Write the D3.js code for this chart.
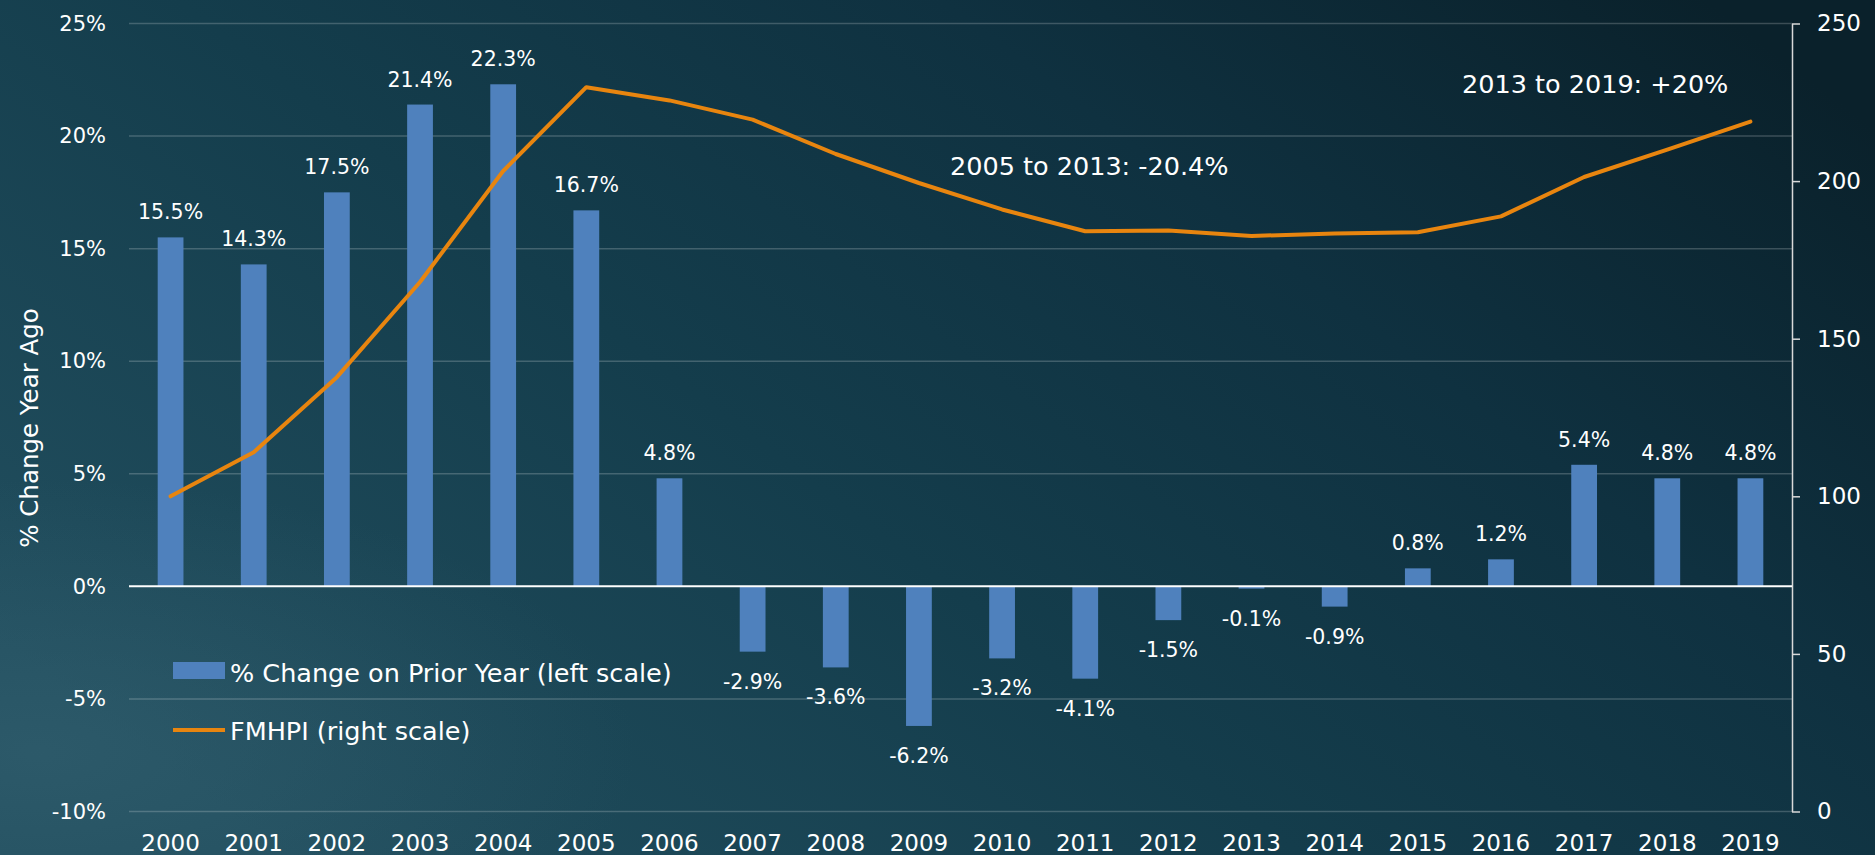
<!DOCTYPE html>
<html>
<head>
<meta charset="utf-8">
<script src="https://cdn.jsdelivr.net/npm/d3@7"></script>
<style>
  html, body { margin: 0; padding: 0; background: #0f3140; }
  svg { display: block; font-family: "DejaVu Sans", sans-serif; }
</style>
</head>
<body>
<svg id="chart"></svg>
<script>
// data
const years = ["2000", "2001", "2002", "2003", "2004", "2005", "2006", "2007", "2008", "2009",
               "2010", "2011", "2012", "2013", "2014", "2015", "2016", "2017", "2018", "2019"];
const pctChange = [15.5, 14.3, 17.5, 21.4, 22.3, 16.7, 4.8, -2.9, -3.6, -6.2,
                   -3.2, -4.1, -1.5, -0.1, -0.9, 0.8, 1.2, 5.4, 4.8, 4.8];
const fmhpi = [100, 114, 137.8, 168, 203.2, 229.8, 225.6, 219.5, 208.6, 199.4,
               191, 184.1, 184.3, 182.6, 183.4, 183.8, 188.8, 201.3, 210, 218.9];
const leftTicks = [-10, -5, 0, 5, 10, 15, 20, 25];
const rightTicks = [0, 50, 100, 150, 200, 250];
const annotations = [
    { text: "2005 to 2013: -20.4%", x: 950, y: 175 },
    { text: "2013 to 2019: +20%", x: 1462, y: 93 }
];
const legendItems = ["% Change on Prior Year (left scale)", "FMHPI (right scale)"];

const width = 1875, height = 855;
const plot = { left: 129, right: 1792, top: 23.5, bottom: 811.5 };
const font = "'DejaVu Sans', sans-serif";

const svg = d3.select("#chart")
    .attr("width", width)
    .attr("height", height);

// background
const defs = svg.append("defs");
const bg = defs.append("linearGradient")
    .attr("id", "bg")
    .attr("x1", "0%").attr("y1", "75%")
    .attr("x2", "100%").attr("y2", "15%");
bg.append("stop").attr("offset", "0%").attr("stop-color", "#214e5e");
bg.append("stop").attr("offset", "40%").attr("stop-color", "#143d4c");
bg.append("stop").attr("offset", "70%").attr("stop-color", "#0f3140");
bg.append("stop").attr("offset", "100%").attr("stop-color", "#0a212b");

const glow = defs.append("radialGradient")
    .attr("id", "glow")
    .attr("cx", "2%").attr("cy", "88%").attr("r", "32%");
glow.append("stop").attr("offset", "0%").attr("stop-color", "#3d6a7a").attr("stop-opacity", 0.4);
glow.append("stop").attr("offset", "100%").attr("stop-color", "#3d6a7a").attr("stop-opacity", 0);

svg.append("rect").attr("width", width).attr("height", height).attr("fill", "url(#bg)");
svg.append("rect").attr("width", width).attr("height", height).attr("fill", "url(#glow)");

// scales
const x = d3.scaleBand()
    .domain(years)
    .range([plot.left, plot.right])
    .paddingInner(0.69)
    .paddingOuter(0.345);

const y = d3.scaleLinear()
    .domain([-10, 25])
    .range([plot.bottom, plot.top]);

const y2 = d3.scaleLinear()
    .domain([0, 250])
    .range([plot.bottom, plot.top]);

const cx = d => x(d) + x.bandwidth() / 2;

// gridlines
svg.append("g")
    .selectAll("line")
    .data(leftTicks.filter(t => t !== 0))
    .join("line")
    .attr("x1", plot.left)
    .attr("x2", plot.right)
    .attr("y1", d => y(d))
    .attr("y2", d => y(d))
    .attr("stroke", "#ffffff")
    .attr("stroke-opacity", 0.2)
    .attr("stroke-width", 1.5);

// left axis labels
const leftAxis = svg.append("g")
    .attr("transform", `translate(${plot.left},0)`)
    .call(d3.axisLeft(y).tickValues(leftTicks).tickFormat(d => d + "%").tickSize(0).tickPadding(23));
leftAxis.select(".domain").remove();
leftAxis.selectAll("text")
    .attr("fill", "#ffffff")
    .style("font-size", "21px")
    .style("font-family", font);

// right axis
const rightAxis = svg.append("g")
    .attr("transform", `translate(${plot.right},0)`)
    .call(d3.axisRight(y2).tickValues(rightTicks).tickSize(8).tickSizeOuter(0).tickPadding(17));
rightAxis.select(".domain").attr("stroke", "#d9d9d9").attr("stroke-width", 1.5);
rightAxis.selectAll(".tick line").attr("stroke", "#d9d9d9").attr("stroke-width", 1.5);
rightAxis.selectAll("text")
    .attr("fill", "#ffffff")
    .style("font-size", "23px")
    .style("font-family", font);

// bars
svg.append("g")
    .selectAll("rect")
    .data(years)
    .join("rect")
    .attr("x", d => x(d))
    .attr("width", x.bandwidth())
    .attr("y", (d, i) => Math.min(y(pctChange[i]), y(0)))
    .attr("height", (d, i) => Math.abs(y(pctChange[i]) - y(0)))
    .attr("fill", "#4f81bd");

// zero line
svg.append("line")
    .attr("x1", plot.left)
    .attr("x2", plot.right)
    .attr("y1", y(0))
    .attr("y2", y(0))
    .attr("stroke", "#ffffff")
    .attr("stroke-width", 2);

// FMHPI line
const line = d3.line()
    .x((d, i) => cx(years[i]))
    .y(d => y2(d));

svg.append("path")
    .datum(fmhpi)
    .attr("d", line)
    .attr("fill", "none")
    .attr("stroke", "#e8850f")
    .attr("stroke-width", 4)
    .attr("stroke-linecap", "round")
    .attr("stroke-linejoin", "round");

// bar labels
svg.append("g")
    .selectAll("text")
    .data(years)
    .join("text")
    .attr("x", d => cx(d))
    .attr("y", (d, i) => pctChange[i] >= 0 ? y(pctChange[i]) - 18 : y(pctChange[i]) + 37)
    .attr("text-anchor", "middle")
    .attr("fill", "#ffffff")
    .style("font-size", "20.5px")
    .text((d, i) => pctChange[i].toFixed(1) + "%");

// x labels
svg.append("g")
    .selectAll("text")
    .data(years)
    .join("text")
    .attr("x", d => cx(d))
    .attr("y", 851)
    .attr("text-anchor", "middle")
    .attr("fill", "#ffffff")
    .style("font-size", "23px")
    .text(d => d);

// y title
svg.append("text")
    .attr("transform", "translate(31,428) rotate(-90)")
    .attr("text-anchor", "middle")
    .attr("dominant-baseline", "middle")
    .attr("fill", "#ffffff")
    .style("font-size", "24.5px")
    .text("% Change Year Ago");

// annotations
svg.append("g")
    .selectAll("text")
    .data(annotations)
    .join("text")
    .attr("x", d => d.x)
    .attr("y", d => d.y)
    .attr("fill", "#ffffff")
    .style("font-size", "25.5px")
    .text(d => d.text);

// legend
const legend = svg.append("g");
legend.append("rect")
    .attr("x", 173).attr("y", 662)
    .attr("width", 52).attr("height", 17)
    .attr("fill", "#4f81bd");
legend.append("line")
    .attr("x1", 173).attr("x2", 225)
    .attr("y1", 730).attr("y2", 730)
    .attr("stroke", "#e8850f")
    .attr("stroke-width", 4);
legend.selectAll("text")
    .data(legendItems)
    .join("text")
    .attr("x", 230)
    .attr("y", (d, i) => i === 0 ? 682 : 740)
    .attr("fill", "#ffffff")
    .style("font-size", "25.5px")
    .text(d => d);
</script>
</body>
</html>
